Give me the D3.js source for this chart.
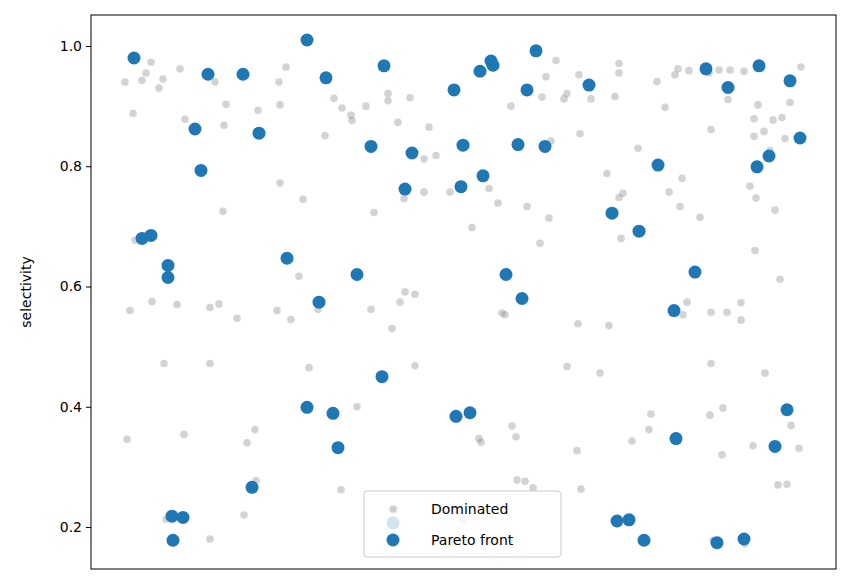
<!DOCTYPE html>
<html><head><meta charset="utf-8">
<script src="https://cdn.jsdelivr.net/npm/d3@7"></script>
<style>body{margin:0;background:#fff;font-family:"DejaVu Sans",sans-serif}</style>
</head><body><svg id="chart" width="850" height="584"></svg>
<script>
// x is an unlabeled position (candidate order); y is selectivity
const domX = [125,127,130,133,135,142,146,151,152,159,163,164,166,171,177,180,184,185,210,210,210,215,219,223,224,226,237,244,247,255,256,258,277,279,280,280,286,291,299,303,309,318,325,334,341,342,351,352,357,366,371,374,388,388,392,395,398,400,404,405,410,415,415,424,424,429,436,450,463,472,479,481,489,498,502,505,511,512,516,517,525,527,533,540,542,546,549,551,556,564,567,567,577,578,580,581,579,591,600,607,609,615,619,619,619,621,623,632,638,649,651,657,665,669,675,678,680,682,683,687,689,700,707,709,710,711,711,711,713,719,722,723,727,728,730,741,741,744,745,750,753,754,754,755,756,758,764,765,770,773,775,778,780,782,785,787,790,791,799,801];
const domY = [0.94,0.346,0.56,0.888,0.677,0.943,0.955,0.973,0.575,0.93,0.945,0.472,0.213,0.175,0.57,0.962,0.354,0.878,0.565,0.472,0.18,0.94,0.571,0.725,0.868,0.903,0.547,0.22,0.34,0.362,0.277,0.893,0.56,0.94,0.772,0.902,0.965,0.545,0.617,0.745,0.465,0.562,0.851,0.913,0.262,0.897,0.885,0.876,0.4,0.9,0.562,0.723,0.921,0.909,0.53,0.228,0.873,0.574,0.746,0.591,0.914,0.587,0.468,0.812,0.757,0.865,0.818,0.757,0.213,0.698,0.347,0.341,0.763,0.739,0.556,0.553,0.9,0.368,0.35,0.278,0.276,0.733,0.265,0.672,0.915,0.949,0.714,0.842,0.976,0.912,0.921,0.467,0.327,0.538,0.854,0.263,0.952,0.912,0.456,0.788,0.535,0.916,0.971,0.955,0.748,0.68,0.755,0.343,0.83,0.362,0.388,0.941,0.898,0.757,0.952,0.962,0.733,0.78,0.553,0.574,0.959,0.715,0.96,0.955,0.386,0.557,0.472,0.861,0.178,0.96,0.32,0.398,0.557,0.911,0.96,0.573,0.544,0.958,0.172,0.767,0.335,0.879,0.85,0.66,0.747,0.902,0.858,0.456,0.826,0.877,0.727,0.27,0.612,0.881,0.846,0.271,0.906,0.369,0.331,0.965];
const parX = [134,142,151,168,168,172,173,183,195,201,208,243,252,259,287,307,307,319,326,333,338,357,371,382,384,393,405,412,454,456,461,463,470,480,483,491,493,506,518,522,527,536,545,589,612,617,629,639,644,658,674,676,695,706,717,728,744,757,759,769,775,787,790,800];
const parY = [0.98,0.68,0.685,0.635,0.615,0.218,0.178,0.216,0.862,0.793,0.953,0.953,0.266,0.855,0.647,1.01,0.399,0.574,0.947,0.389,0.332,0.62,0.833,0.45,0.967,0.207,0.762,0.822,0.927,0.384,0.766,0.835,0.39,0.958,0.784,0.975,0.968,0.62,0.836,0.58,0.927,0.992,0.833,0.935,0.722,0.21,0.212,0.692,0.178,0.802,0.56,0.347,0.624,0.962,0.174,0.931,0.18,0.799,0.967,0.817,0.334,0.395,0.942,0.847];
const yTicks = [0.2, 0.4, 0.6, 0.8, 1.0];

const L = 91, R = 836, T = 15, B = 569;
const svg = d3.select('#chart');
const x = d3.scaleLinear().domain([91, 836]).range([L, R]);
const y = d3.scaleLinear().domain([0.2, 1.0]).range([527, 46]);

svg.append('g').selectAll('circle').data(domX.map((v, i) => [v, domY[i]]))
  .enter().append('circle')
  .attr('cx', d => x(d[0])).attr('cy', d => y(d[1])).attr('r', 3.8)
  .attr('fill', '#808080').attr('opacity', 0.35);

svg.append('g').selectAll('circle').data(parX.map((v, i) => [v, parY[i]]))
  .enter().append('circle')
  .attr('cx', d => x(d[0])).attr('cy', d => y(d[1])).attr('r', 6.5)
  .attr('fill', '#1f77b4');

const ay = svg.append('g').attr('transform', `translate(${L},0)`)
  .call(d3.axisLeft(y).tickValues(yTicks).tickFormat(d3.format('.1f')).tickSize(5).tickPadding(4));
ay.select('.domain').remove();
ay.selectAll('text').style('font-size', '14px').style('font-family', 'DejaVu Sans').attr('fill', '#000');

svg.append('rect').attr('x', L).attr('y', T).attr('width', R - L).attr('height', B - T)
  .attr('fill', 'none').attr('stroke', '#000').attr('stroke-width', 1);

svg.append('text').attr('transform', 'translate(31,292) rotate(-90)')
  .attr('text-anchor', 'middle').style('font-size', '14px').text('selectivity');

const lg = svg.append('g');
lg.append('rect').attr('x', 364).attr('y', 491).attr('width', 197).attr('height', 66).attr('rx', 3)
  .attr('fill', '#fff').attr('fill-opacity', 0.8).attr('stroke', '#ccc');
lg.append('circle').attr('cx', 393).attr('cy', 509).attr('r', 3.8).attr('fill', '#808080').attr('opacity', 0.35);
lg.append('circle').attr('cx', 393).attr('cy', 540).attr('r', 6.5).attr('fill', '#1f77b4');
lg.append('text').attr('x', 431).attr('y', 514).style('font-size', '14px').text('Dominated');
lg.append('text').attr('x', 431).attr('y', 545).style('font-size', '14px').text('Pareto front');
</script></body></html>
